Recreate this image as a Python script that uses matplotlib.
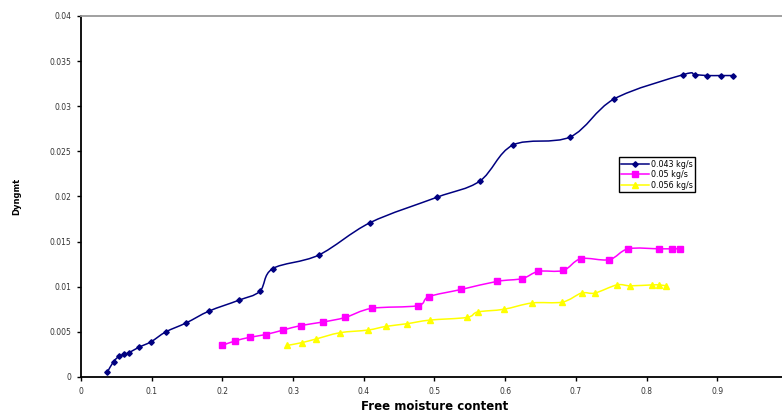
"""Drying curves: rate against free moisture content at three air flow rates."""

import matplotlib.pyplot as plt
import numpy as np
from matplotlib.patches import PathPatch
from matplotlib.path import Path

# 0.043 kg/s
moist_a = [0.037, 0.046, 0.054, 0.061, 0.068, 0.082, 0.099, 0.120, 0.149, 0.181,
           0.223, 0.253, 0.271, 0.336, 0.409, 0.503, 0.564, 0.611, 0.692, 0.754,
           0.852, 0.868, 0.885, 0.906, 0.922]
rate_a = [0.0005, 0.0017, 0.0023, 0.0025, 0.0027, 0.0033, 0.0039, 0.0050, 0.0060, 0.0073,
          0.0085, 0.0095, 0.0120, 0.0135, 0.0171, 0.0199, 0.0217, 0.0257, 0.0266, 0.0308,
          0.0335, 0.0335, 0.0334, 0.0334, 0.0334]

# 0.05 kg/s
moist_b = [0.200, 0.218, 0.239, 0.261, 0.286, 0.311, 0.343, 0.374, 0.411, 0.476,
           0.492, 0.538, 0.589, 0.624, 0.647, 0.682, 0.707, 0.747, 0.774, 0.818,
           0.836, 0.847]
rate_b = [0.0035, 0.0040, 0.0044, 0.0047, 0.0052, 0.0057, 0.0061, 0.0066, 0.0076, 0.0079,
          0.0089, 0.0097, 0.0106, 0.0109, 0.0117, 0.0118, 0.0131, 0.0130, 0.0142, 0.0142,
          0.0142, 0.0142]

# 0.056 kg/s
moist_c = [0.292, 0.312, 0.332, 0.366, 0.406, 0.431, 0.461, 0.493, 0.546, 0.561,
           0.598, 0.638, 0.681, 0.708, 0.727, 0.758, 0.777, 0.807, 0.818, 0.828]
rate_c = [0.0035, 0.0038, 0.0042, 0.0049, 0.0052, 0.0056, 0.0059, 0.0063, 0.0066, 0.0072,
          0.0075, 0.0082, 0.0083, 0.0093, 0.0093, 0.0102, 0.0101, 0.0102, 0.0102, 0.0101]

labels = ["0.043 kg/s", "0.05 kg/s", "0.056 kg/s"]
x_ticks = [0, 0.1, 0.2, 0.3, 0.4, 0.5, 0.6, 0.7, 0.8, 0.9]
y_ticks = [0, 0.005, 0.01, 0.015, 0.02, 0.025, 0.03, 0.035, 0.04]
y_ticklabels = ["0", "0.005", "0.01", "0.015", "0.02", "0.025", "0.03", "0.035", "0.04"]

SERIES = [
    (moist_a, rate_a, "#000080", "D", 2.8),
    (moist_b, rate_b, "#FF00FF", "s", 4.5),
    (moist_c, rate_c, "#FFFF00", "^", 4.5),
]


def smooth_path(xs, ys):
    """Bezier path through every point, spreadsheet-style smoothed line."""
    pts = np.column_stack([xs, ys])
    n = len(pts)
    verts = [pts[0]]
    codes = [Path.MOVETO]
    for i in range(n - 1):
        p0 = pts[max(i - 1, 0)]
        p1 = pts[i]
        p2 = pts[i + 1]
        p3 = pts[min(i + 2, n - 1)]
        verts += [p1 + (p2 - p0) / 6.0, p2 - (p3 - p1) / 6.0, p2]
        codes += [Path.CURVE4] * 3
    return Path(verts, codes)


fig = plt.figure(figsize=(7.82, 4.16), dpi=100)
ax = fig.add_axes([0.1036, 0.0938, 0.904, 0.8678])

handles = []
for (xs, ys, color, marker, ms), label in zip(SERIES, labels):
    ax.add_patch(PathPatch(smooth_path(xs, ys), facecolor="none", edgecolor=color,
                           linewidth=1.1, zorder=2))
    ax.plot(xs, ys, linestyle="none", marker=marker, markersize=ms, color=color,
            markeredgecolor=color, zorder=3)
    handles.append(plt.Line2D([], [], color=color, marker=marker, markersize=ms,
                              linewidth=1.1, label=label))

ax.set_xlim(0, 1.0)
ax.set_ylim(0, 0.04)
ax.set_xticks(x_ticks)
ax.set_xticklabels([f"{t:g}" for t in x_ticks])
ax.set_yticks(y_ticks)
ax.set_yticklabels(y_ticklabels)
ax.tick_params(direction="out", length=3, width=1, labelsize=5.5,
               labelcolor="#333333", pad=4)

for side in ("left", "bottom"):
    ax.spines[side].set_color("black")
    ax.spines[side].set_linewidth(1.3)
ax.spines["top"].set_color("#999999")
ax.spines["top"].set_linewidth(1.3)
ax.spines["right"].set_visible(False)

ax.set_xlabel("Free moisture content", fontsize=8.5, fontweight="bold", labelpad=3)
ax.set_ylabel("Dyngmt", fontsize=6, fontweight="bold", labelpad=20)

leg = ax.legend(handles=handles, loc="upper left", bbox_to_anchor=(0.755, 0.62),
                fontsize=5.8, frameon=True, fancybox=False, framealpha=1,
                edgecolor="black", borderpad=0.3, labelspacing=0.2,
                handlelength=3.4, handletextpad=0.3)
leg.get_frame().set_linewidth(1.0)

fig.savefig("out.png", dpi=100)
